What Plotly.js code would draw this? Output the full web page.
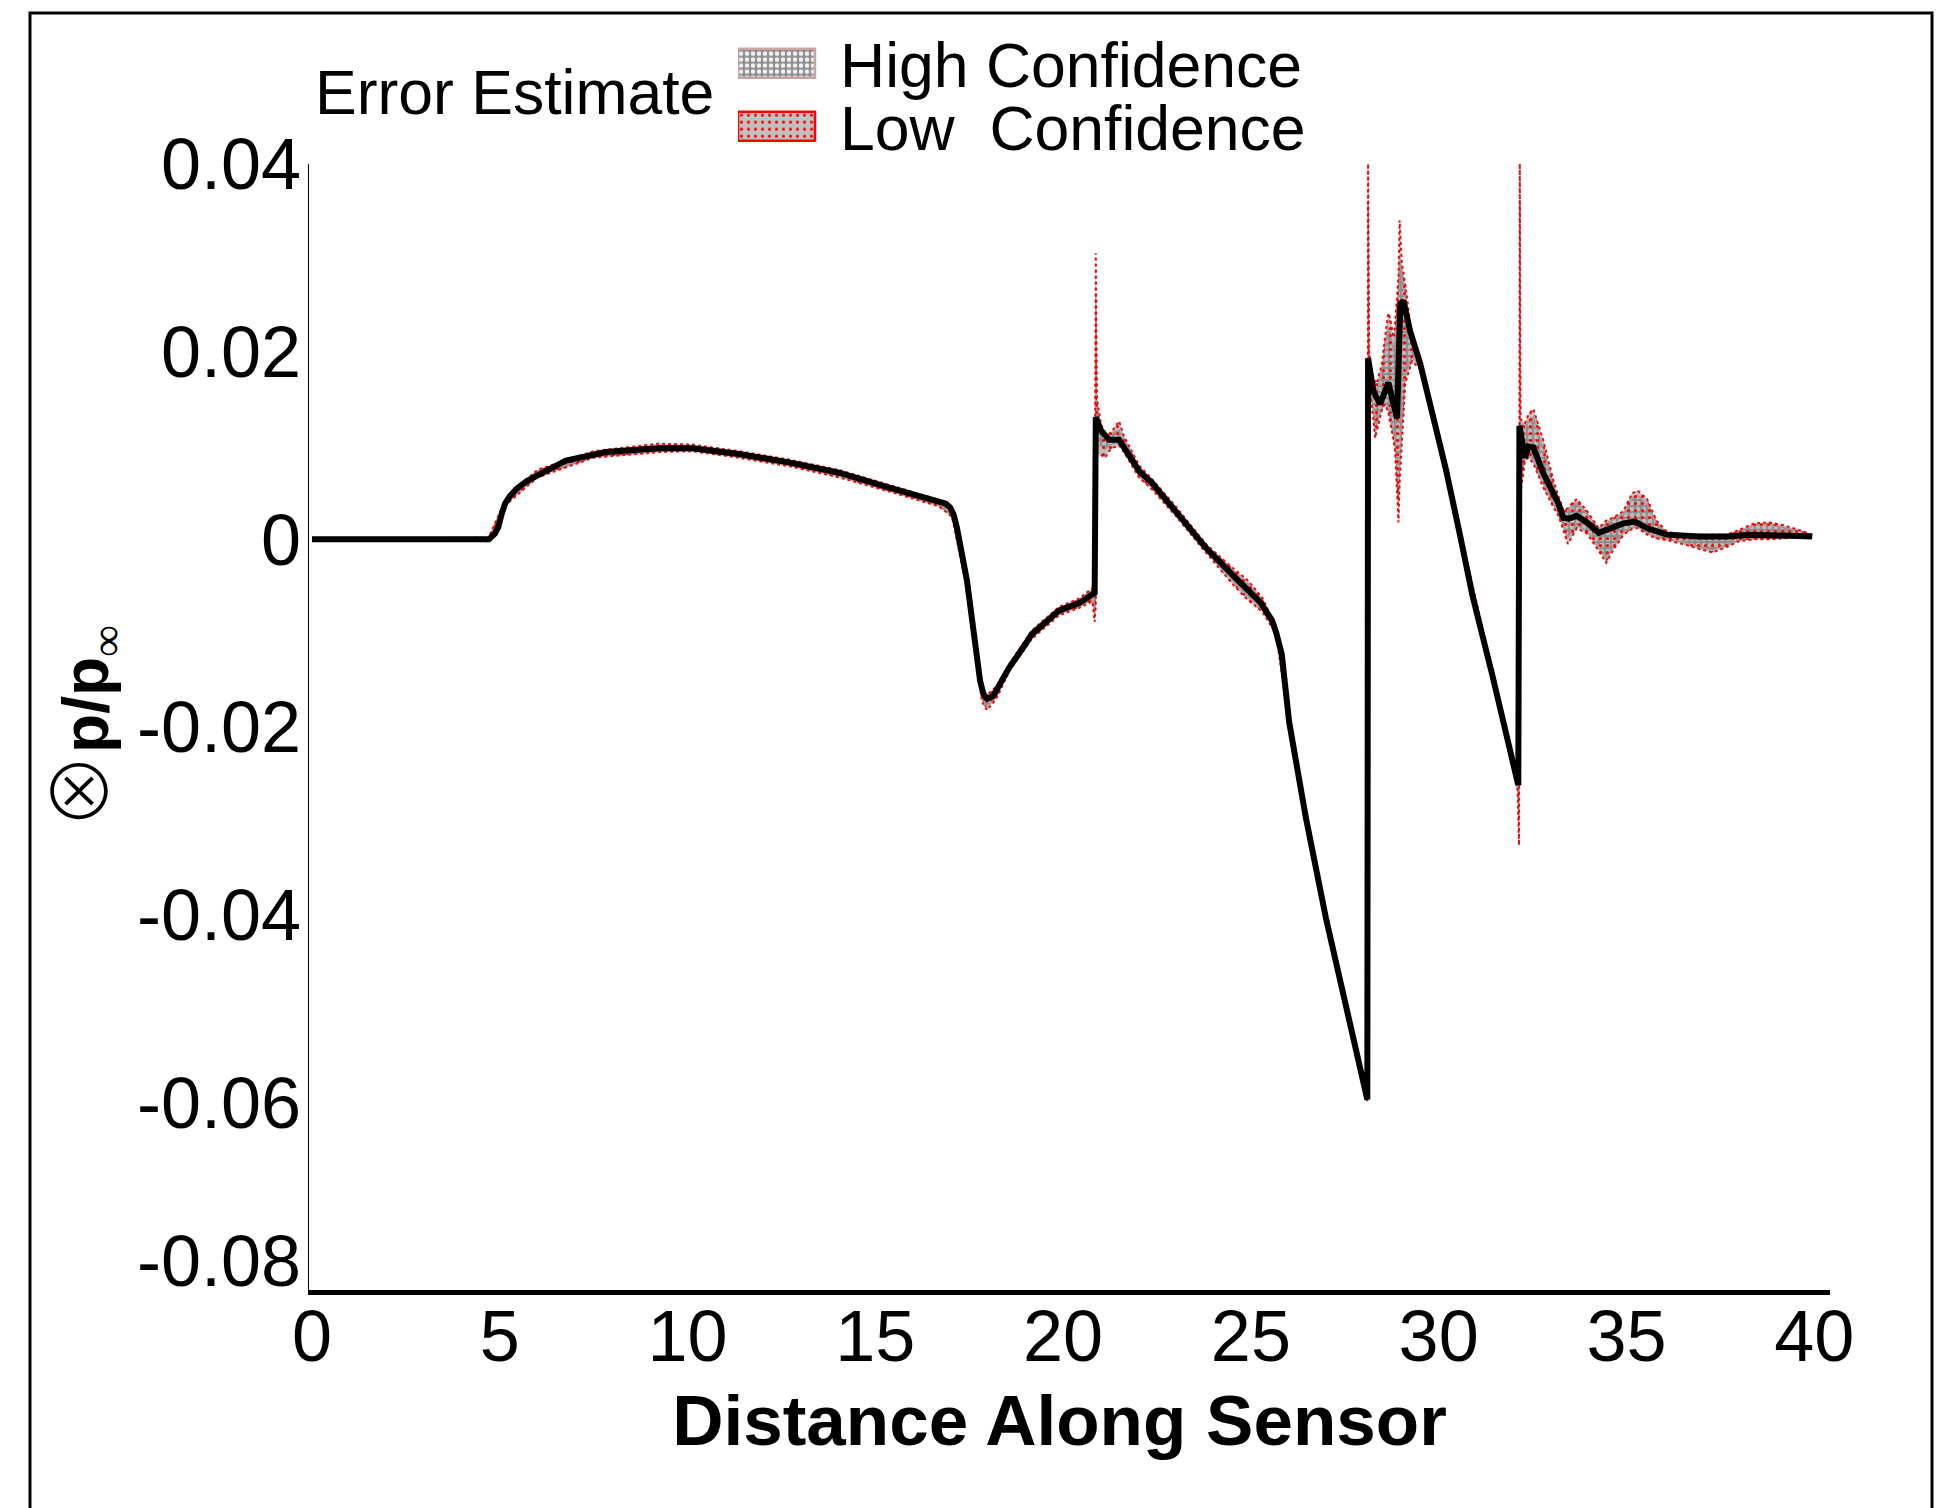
<!DOCTYPE html>
<html>
<head>
<meta charset="utf-8">
<script src="https://cdn.plot.ly/plotly-3.0.1.min.js"></script>
<style>
  html, body { margin: 0; padding: 0; background: #ffffff; }
  #chart { width: 1936px; height: 1508px; }
</style>
</head>
<body>
<div id="chart"></div>
<script>
// ---------------- data ----------------
const lineX = [0, 4.71, 4.87, 4.96, 5.05, 5.14, 5.27, 5.45, 5.72, 6.07,
  6.76, 7.83, 9.24, 10.12, 11.37, 12.70, 14.03, 15.37, 16.55, 16.88,
  16.99, 17.08, 17.17, 17.44, 17.79, 17.88, 17.98, 18.14, 18.32, 18.56,
  18.94, 19.17, 19.89, 20.43, 20.84, 20.87, 21.01, 21.22, 21.49, 22.02,
  22.37, 23.00, 23.80, 24.69, 25.25, 25.41, 25.56, 25.67, 25.82, 26.02,
  26.47, 27.00, 27.54, 28.10, 28.12, 28.26, 28.44, 28.66, 28.89, 28.98,
  29.06, 29.24, 29.51, 29.83, 30.19, 30.55, 30.90, 31.43, 31.88, 32.12,
  32.15, 32.30, 32.39, 32.52, 32.79, 33.06, 33.19, 33.32, 33.46, 33.68,
  33.95, 34.26, 34.57, 34.92, 35.23, 35.54, 36.08, 36.96, 37.68, 38.30,
  39.18, 39.94];
const lineY = [0, 0, 0.0006, 0.0013, 0.0027, 0.0038, 0.0046, 0.0054, 0.0062, 0.0070,
  0.0084, 0.0093, 0.0097, 0.0097, 0.0091, 0.0082, 0.0071, 0.0055, 0.0043, 0.0038,
  0.0034, 0.0027, 0.0013, -0.0044, -0.0151, -0.0165, -0.0170, -0.0167, -0.0154, -0.0137,
  -0.0115, -0.0101, -0.0076, -0.0068, -0.0057, 0.0130, 0.0116, 0.0106, 0.0106, 0.0073,
  0.0060, 0.0030, -0.0009, -0.0045, -0.0067, -0.0077, -0.0086, -0.0099, -0.0122, -0.0195,
  -0.0298, -0.0404, -0.0499, -0.0597, 0.0193, 0.0158, 0.0144, 0.0167, 0.0129, 0.0251,
  0.0254, 0.0222, 0.0187, 0.0135, 0.0075, 0.0008, -0.0060, -0.0145, -0.0222, -0.0262,
  0.0121, 0.0087, 0.0099, 0.0098, 0.0070, 0.0048, 0.0038, 0.0023, 0.0022, 0.0025,
  0.0018, 0.0007, 0.0011, 0.0017, 0.0019, 0.0012, 0.0005, 0.0003, 0.0003, 0.0005,
  0.0004, 0.0003];

const bandX = [0, 4.70, 5.20, 6.00, 7.50, 9.24, 10.12, 11.37, 12.70, 14.03,
  15.37, 16.70, 17.04, 17.41, 17.84, 17.97, 18.22, 18.56, 19.17, 19.89,
  20.43, 20.78, 20.84, 20.87, 20.90, 21.01, 21.12, 21.22, 21.35, 21.49,
  21.62, 22.02, 22.37, 23.00, 23.80, 24.50, 24.90, 25.30, 25.67, 26.02,
  27.00, 28.10, 28.12, 28.15, 28.26, 28.31, 28.35, 28.44, 28.49, 28.57,
  28.66, 28.71, 28.80, 28.84, 28.93, 28.96, 29.02, 29.11, 29.29, 29.51,
  29.83, 30.55, 31.43, 32.10, 32.14, 32.16, 32.18, 32.30, 32.39, 32.52,
  32.79, 33.06, 33.19, 33.32, 33.44, 33.56, 33.68, 33.95, 34.26, 34.46,
  34.64, 34.92, 35.15, 35.30, 35.55, 35.80, 36.08, 36.60, 37.00, 37.30,
  37.68, 38.00, 38.40, 38.80, 39.18, 39.60, 39.94];

// Low confidence (outer) envelope
const lowLower = [0, -0.0002, 0.0038, 0.0066, 0.0087, 0.0093, 0.0094, 0.0087, 0.0078, 0.0066,
  0.0051, 0.0035, 0.0024, -0.0048, -0.0173, -0.0182, -0.0170, -0.0141, -0.0106, -0.0081,
  -0.0073, -0.0066, -0.0088, -0.0070, 0.0092, 0.0090, 0.0087, 0.0094, 0.0098, 0.0100,
  0.0093, 0.0066, 0.0053, 0.0025, -0.0014, -0.0047, -0.0064, -0.0077, -0.0101, -0.0198,
  -0.0407, -0.0600, 0.0188, 0.0165, 0.0128, 0.0108, 0.0115, 0.0130, 0.0138, 0.0144,
  0.0135, 0.0123, 0.0105, 0.0094, 0.0018, 0.0060, 0.0108, 0.0166, 0.0190, 0.0181,
  0.0130, 0.0004, -0.0149, -0.0266, -0.0326, 0.0044, 0.0050, 0.0084, 0.0087, 0.0081,
  0.0055, 0.0034, 0.0025, 0.0010, -0.0005, 0.0004, 0.0012, 0.0006, -0.0012, -0.0025,
  -0.0012, 0.0005, 0.0011, 0.0012, 0.0005, 0.0001, -0.0001, -0.0006, -0.0011, -0.0014,
  -0.0008, -0.0002, 0.0000, 0.0000, 0.0001, 0.0002, 0.0002];
const lowUpper = [0, 0.0002, 0.0046, 0.0074, 0.0094, 0.0102, 0.0101, 0.0094, 0.0085, 0.0074,
  0.0058, 0.0042, 0.0031, -0.0040, -0.0161, -0.0166, -0.0157, -0.0133, -0.0097, -0.0072,
  -0.0063, -0.0052, -0.0050, 0.0305, 0.0150, 0.0122, 0.0114, 0.0112, 0.0118, 0.0126,
  0.0110, 0.0079, 0.0064, 0.0035, -0.0005, -0.0030, -0.0043, -0.0062, -0.0093, -0.0192,
  -0.0401, -0.0594, 0.0410, 0.0200, 0.0172, 0.0168, 0.0166, 0.0180, 0.0187, 0.0215,
  0.0241, 0.0235, 0.0215, 0.0230, 0.0280, 0.0340, 0.0294, 0.0272, 0.0215, 0.0192,
  0.0138, 0.0012, -0.0141, -0.0256, -0.0252, 0.0410, 0.0128, 0.0124, 0.0133, 0.0139,
  0.0105, 0.0062, 0.0046, 0.0031, 0.0033, 0.0039, 0.0043, 0.0030, 0.0012, 0.0020,
  0.0023, 0.0030, 0.0049, 0.0052, 0.0043, 0.0020, 0.0008, 0.0005, 0.0005, 0.0005,
  0.0005, 0.0010, 0.0017, 0.0018, 0.0015, 0.0010, 0.0005];

// High confidence (inner) envelope
const highLower = [0, -0.0001, 0.0040, 0.0068, 0.0088, 0.0094, 0.0095, 0.0088, 0.0079, 0.0068,
  0.0052, 0.0036, 0.0025, -0.0047, -0.0170, -0.0178, -0.0167, -0.0140, -0.0104, -0.0079,
  -0.0071, -0.0064, -0.0080, -0.0062, 0.0100, 0.0100, 0.0096, 0.0100, 0.0102, 0.0103,
  0.0096, 0.0068, 0.0055, 0.0027, -0.0012, -0.0043, -0.0060, -0.0074, -0.0099, -0.0197,
  -0.0406, -0.0599, 0.0190, 0.0170, 0.0138, 0.0118, 0.0122, 0.0134, 0.0140, 0.0146,
  0.0140, 0.0130, 0.0112, 0.0100, 0.0040, 0.0080, 0.0125, 0.0175, 0.0195, 0.0183,
  0.0131, 0.0005, -0.0148, -0.0265, -0.0300, 0.0060, 0.0065, 0.0088, 0.0090, 0.0085,
  0.0060, 0.0038, 0.0028, 0.0014, 0.0002, 0.0009, 0.0015, 0.0009, -0.0008, -0.0020,
  -0.0009, 0.0008, 0.0013, 0.0014, 0.0007, 0.0003, 0.0001, -0.0004, -0.0009, -0.0011,
  -0.0006, -0.0001, 0.0001, 0.0001, 0.0002, 0.0002, 0.0002];
const highUpper = [0, 0.0001, 0.0045, 0.0073, 0.0093, 0.0100, 0.0099, 0.0093, 0.0084, 0.0073,
  0.0057, 0.0041, 0.0030, -0.0041, -0.0163, -0.0168, -0.0159, -0.0134, -0.0098, -0.0073,
  -0.0065, -0.0054, -0.0052, 0.0260, 0.0140, 0.0118, 0.0111, 0.0110, 0.0114, 0.0116,
  0.0106, 0.0077, 0.0063, 0.0033, -0.0006, -0.0033, -0.0047, -0.0065, -0.0095, -0.0193,
  -0.0402, -0.0595, 0.0360, 0.0196, 0.0168, 0.0162, 0.0160, 0.0172, 0.0180, 0.0200,
  0.0225, 0.0220, 0.0200, 0.0215, 0.0265, 0.0300, 0.0285, 0.0262, 0.0212, 0.0190,
  0.0137, 0.0011, -0.0142, -0.0257, -0.0254, 0.0360, 0.0124, 0.0118, 0.0126, 0.0130,
  0.0096, 0.0058, 0.0044, 0.0029, 0.0030, 0.0036, 0.0039, 0.0027, 0.0011, 0.0017,
  0.0021, 0.0027, 0.0044, 0.0047, 0.0038, 0.0017, 0.0007, 0.0004, 0.0004, 0.0004,
  0.0004, 0.0008, 0.0015, 0.0016, 0.0013, 0.0009, 0.0005];

const seriesNames = ['High Confidence', 'Low  Confidence'];
const legendTitle = 'Error Estimate';
const xTickVals = [0, 5, 10, 15, 20, 25, 30, 35, 40];
const xTickText = ['0', '5', '10', '15', '20', '25', '30', '35', '40'];
const yTickVals = [-0.08, -0.06, -0.04, -0.02, 0, 0.02, 0.04];
const yTickText = ['-0.08', '-0.06', '-0.04', '-0.02', '0', '0.02', '0.04'];
const xTitle = 'Distance Along Sensor';
const yTitle = '<span style="font-family:Noto Sans CJK JP;font-weight:300;font-size:76px">⊗</span><b>p/p</b><sub><span style="font-family:Liberation Serif;font-weight:normal">∞</span></sub>';

// ---------------- figure ----------------
function closedBand(xs, lo, hi) {
  return {
    x: xs.concat(xs.slice().reverse()),
    y: hi.concat(lo.slice().reverse())
  };
}
const hb = closedBand(bandX, highLower, highUpper);
const lb = closedBand(bandX, lowLower, lowUpper);

const W = 1936, H = 1508;
const M = {l: 309, r: 106, t: 164, b: 218};
const pw = W - M.l - M.r, ph = H - M.t - M.b;
function px2paperX(px) { return (px - M.l) / pw; }
function px2paperY(py) { return (H - M.b - py) / ph; }

const data = [
  {
    type: 'scatter', mode: 'lines', name: seriesNames[0],
    x: hb.x, y: hb.y, fill: 'toself',
    fillcolor: '#8e8e8e',
    fillpattern: {shape: '.', bgcolor: '#8e8e8e', fgcolor: '#f2f2f2', size: 6, solidity: 0.45},
    line: {color: '#c9a3a3', width: 1.5},
    legend: 'legend', hoverinfo: 'skip'
  },
  {
    type: 'scatter', mode: 'lines', name: seriesNames[1],
    x: lb.x, y: lb.y, fill: 'toself',
    fillcolor: 'rgba(140,140,140,0.55)',
    fillpattern: {shape: '.', bgcolor: 'rgba(140,140,140,0.55)', fgcolor: 'rgba(255,0,0,1)', size: 7, solidity: 0.16},
    line: {color: 'rgba(235,0,0,0.95)', width: 2, dash: 'dot'},
    legend: 'legend2', hoverinfo: 'skip'
  },
  {
    type: 'scatter', mode: 'lines', name: 'mean',
    x: lineX, y: lineY, showlegend: false,
    line: {color: '#000000', width: 6},
    hoverinfo: 'skip'
  }
];

const layout = {
  width: W, height: H,
  margin: M,
  paper_bgcolor: '#ffffff', plot_bgcolor: '#ffffff',
  font: {family: 'Liberation Sans, Arial, sans-serif', color: '#000000'},
  showlegend: true,
  xaxis: {
    range: [-0.08, 40.42],
    tickmode: 'array', tickvals: xTickVals, ticktext: xTickText,
    showgrid: false, zeroline: false,
    showline: true, linecolor: '#000000', linewidth: 5,
    ticks: '', ticklabelstandoff: -20,
    tickfont: {size: 72, color: '#000000'},
    title: {text: xTitle, font: {size: 71, weight: 'bold', color: '#000000'}, standoff: 21}
  },
  yaxis: {
    range: [-0.08, 0.04],
    tickmode: 'array', tickvals: yTickVals, ticktext: yTickText,
    showgrid: false, zeroline: false,
    showline: true, linecolor: '#000000', linewidth: 1.5,
    ticks: '', ticklabelstandoff: -8,
    tickfont: {size: 72, color: '#000000'},
    title: {text: yTitle, font: {size: 64, color: '#000000'}, standoff: 7}
  },
  legend: {
    x: px2paperX(738), xanchor: 'left',
    y: px2paperY(63), yanchor: 'middle',
    bgcolor: 'rgba(0,0,0,0)', borderwidth: 0,
    font: {size: 62.5, color: '#000000'},
    itemwidth: 92
  },
  legend2: {
    x: px2paperX(738), xanchor: 'left',
    y: px2paperY(126), yanchor: 'middle',
    bgcolor: 'rgba(0,0,0,0)', borderwidth: 0,
    font: {size: 62.5, color: '#000000'},
    itemwidth: 92
  },
  annotations: [{
    text: legendTitle, showarrow: false,
    xref: 'paper', yref: 'paper',
    x: px2paperX(313), xanchor: 'left',
    y: px2paperY(92), yanchor: 'middle',
    font: {size: 62.5, color: '#000000'}
  }],
  shapes: [{
    type: 'rect', xref: 'paper', yref: 'paper', layer: 'above',
    x0: px2paperX(30), x1: px2paperX(1932),
    y0: px2paperY(1540), y1: px2paperY(13),
    line: {color: '#000000', width: 3}, fillcolor: 'rgba(0,0,0,0)'
  }]
};

const gd = document.getElementById('chart');
Plotly.newPlot(gd, data, layout, {staticPlot: true, displayModeBar: false}).then(function () {
  // legend swatches drawn as larger boxes, as in the reference
  const borders = ['#c9a3a3', '#ff0000'];
  const items = gd.querySelectorAll('g.traces');
  items.forEach(function (g, i) {
    const f = g.querySelector('.legendfill path');
    if (f) {
      f.setAttribute('d', 'M0,-14h77v29h-77z');
      f.style.stroke = borders[i % 2];
      f.style.strokeWidth = '2.5px';
    }
    const l = g.querySelector('.legendlines path');
    if (l) l.style.display = 'none';
  });
  // the lowest y tick label sits a little above the axis corner in the reference
  gd.querySelectorAll('.ytick text').forEach(function (t) {
    if (t.textContent === yTickText[0]) {
      t.setAttribute('transform', (t.getAttribute('transform') || '') + ' translate(0,-29)');
    }
  });
  // x title sits slightly left of centre in the reference
  const xt = gd.querySelector('.g-xtitle text');
  if (xt) xt.setAttribute('transform', (xt.getAttribute('transform') || '') + ' translate(-10,0)');
});
</script>
</body>
</html>
